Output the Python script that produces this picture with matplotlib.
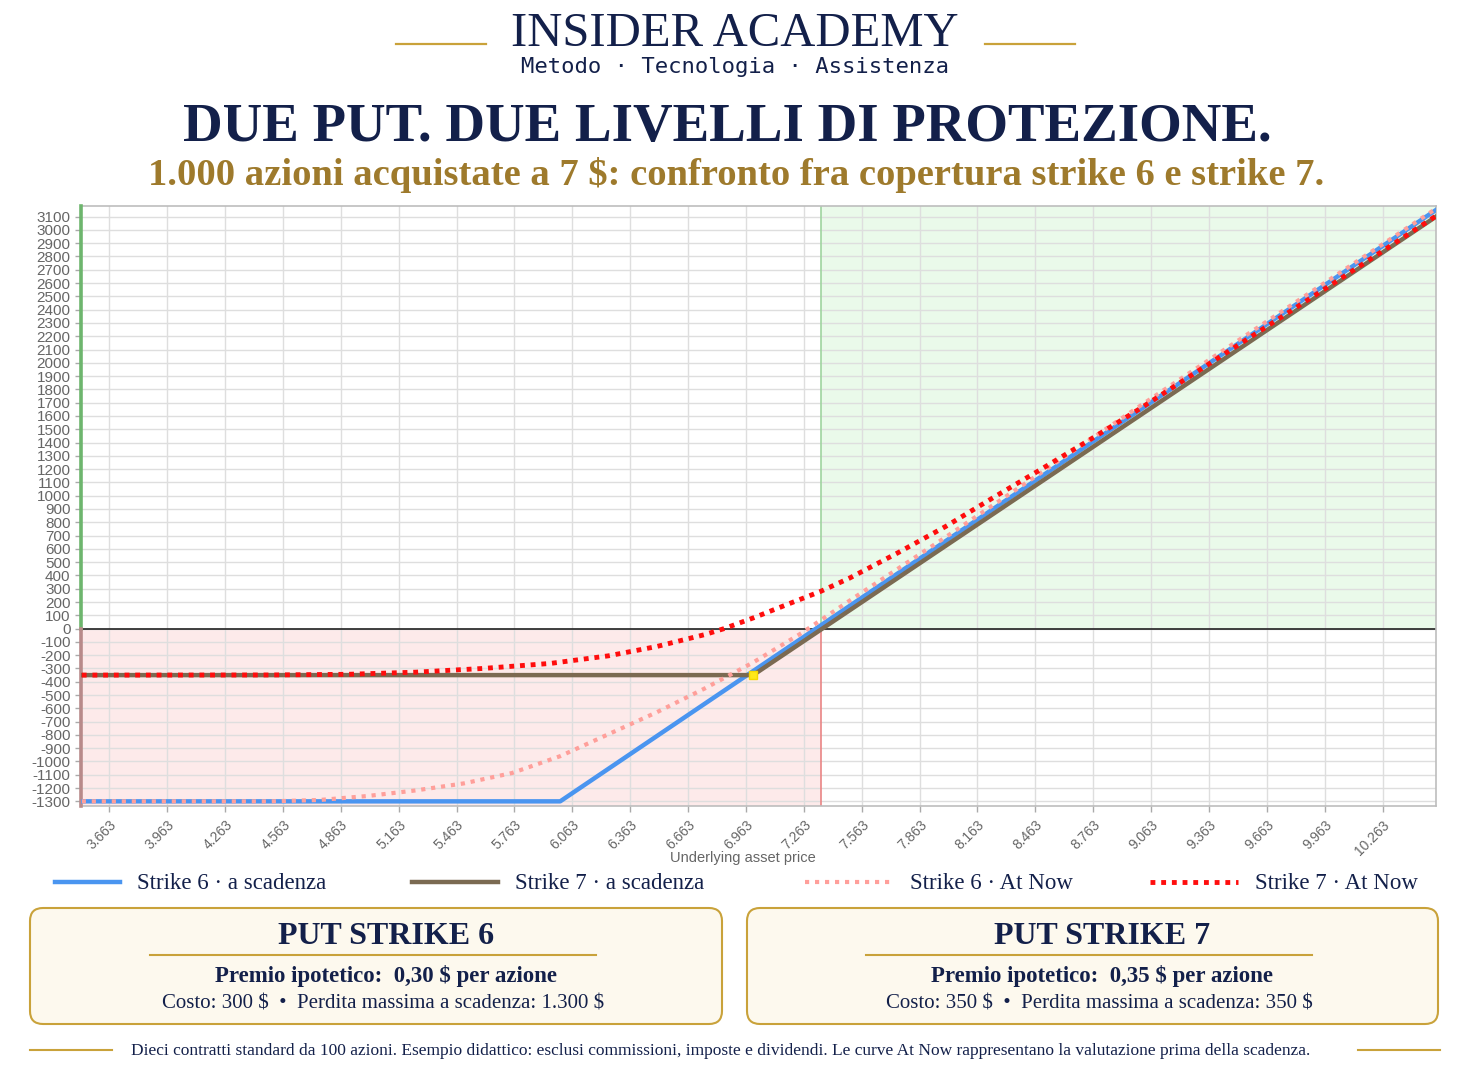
import matplotlib
matplotlib.use("Agg")
import matplotlib.pyplot as plt
from matplotlib.patches import FancyBboxPatch, Rectangle

# --- data (1000 shares bought at 7 $) ---
price_lo, price_hi = 3.516, 10.54
breakeven = 7.35

# P/L at expiry
exp6_price = [3.516, 6.0, 10.54]
exp6_pl = [-1300, -1300, 3150]
exp7_price = [3.516, 7.0, 10.54]
exp7_pl = [-350, -350, 3100]

# P/L "At Now"
now6_price = [3.52, 4.50, 4.75, 5.00, 5.25, 5.50, 5.75, 6.00, 6.25, 6.50, 6.75,
              7.00, 7.25, 7.50, 7.75, 8.00, 8.50, 9.00, 10.54]
now6_pl = [-1300, -1300, -1290, -1260, -1218, -1165, -1087, -960, -795, -630, -450,
           -255, -35, 210, 450, 690, 1180, 1670, 3160]
now7_price = [3.52, 4.50, 4.90, 5.25, 5.60, 5.95, 6.25, 6.50, 6.75, 6.85, 7.00, 7.20,
              7.35, 7.50, 7.75, 8.00, 8.25, 8.50, 8.75, 9.00, 9.50, 10.00, 10.54]
now7_pl = [-350, -349, -344, -328, -300, -262, -205, -135, -45, 0, 80, 195,
           280, 380, 570, 770, 990, 1205, 1425, 1650, 2120, 2590, 3105]

x_ticks = [3.663, 3.963, 4.263, 4.563, 4.863, 5.163, 5.463, 5.763, 6.063, 6.363, 6.663,
           6.963, 7.263, 7.563, 7.863, 8.163, 8.463, 8.763, 9.063, 9.363, 9.663, 9.963, 10.263]
y_ticks = list(range(-1300, 3101, 100))

legend_labels = ["Strike 6 · a scadenza", "Strike 7 · a scadenza",
                 "Strike 6 · At Now", "Strike 7 · At Now"]

navy = "#13204a"
gold = "#c9a23a"
serif = "Liberation Serif"
W, H = 1470, 1070
dots6 = (0, (1, 1.4))
dots7 = (0, (1, 1.2))

fig = plt.figure(figsize=(W / 100, H / 100), dpi=100)
fig.patch.set_facecolor("white")

# overlay in pixel units for header, legend, boxes, footer
ov = fig.add_axes([0, 0, 1, 1], zorder=0)
ov.set_xlim(0, W)
ov.set_ylim(H, 0)
ov.axis("off")

# ---- header ----
ov.text(735, 46, "INSIDER ACADEMY", family=serif, fontsize=35, color=navy,
        ha="center", va="baseline")
ov.plot([396, 486], [44, 44], color=gold, lw=1.6)
ov.plot([985, 1075], [44, 44], color=gold, lw=1.6)
ov.text(735, 73, "Metodo · Tecnologia · Assistenza", family="DejaVu Sans Mono",
        fontsize=16, color=navy, ha="center", va="baseline")
ov.text(727, 141, "DUE PUT. DUE LIVELLI DI PROTEZIONE.", family=serif, weight="bold",
        fontsize=39.5, color=navy, ha="center", va="baseline")
ov.text(736, 185, "1.000 azioni acquistate a 7 $: confronto fra copertura strike 6 e strike 7.",
        family=serif, weight="bold", fontsize=27.7, color="#9e7a2c", ha="center",
        va="baseline", parse_math=False)

# ---- chart ----
ax = fig.add_axes([81 / W, 264 / H, 1355 / W, 600 / H], zorder=1)
ax.set_xlim(price_lo, price_hi)
ax.set_ylim(-1335, 3180)

ax.add_patch(Rectangle((price_lo, -1335), breakeven - price_lo, 1335,
                       facecolor="#fdeaea", lw=0, zorder=0))
ax.add_patch(Rectangle((breakeven, 0), price_hi - breakeven, 3180,
                       facecolor="#eafaea", lw=0, zorder=0))

ax.set_xticks(x_ticks)
ax.set_xticklabels([f"{v:.3f}" for v in x_ticks], rotation=45, ha="right",
                   rotation_mode="anchor", family="Liberation Sans", fontsize=10)
ax.set_yticks(y_ticks)
ax.set_yticklabels([str(v) for v in y_ticks], family="Liberation Sans", fontsize=11)
ax.tick_params(colors="#aaaaaa", labelcolor="#666666", length=4.5, width=1, pad=3)
ax.tick_params(axis="x", pad=4)
ax.grid(True, color="#dedede", lw=1)
ax.set_axisbelow(True)
for s in ax.spines.values():
    s.set_color("#bdbdbd")
    s.set_linewidth(1.2)

ax.axhline(0, color="#222222", lw=1.2, zorder=2)
ax.plot([breakeven, breakeven], [0, 3180], color="#9fd49f", lw=1.2, zorder=2)
ax.plot([breakeven, breakeven], [-1335, 0], color="#e98585", lw=1.2, zorder=2)
ax.plot([price_lo, price_lo], [0, 3180], color="#6db56d", lw=2.6, zorder=3, clip_on=False)
ax.plot([price_lo, price_lo], [-1335, 0], color="#b88a8a", lw=2.6, zorder=3, clip_on=False)

l1, = ax.plot(exp6_price, exp6_pl, color="#4a95f0", lw=3.2, zorder=4)
l2, = ax.plot(exp7_price, exp7_pl, color="#7b6a52", lw=3.2, zorder=4)
l3, = ax.plot(now6_price, now6_pl, color="#ff9f9a", lw=3, ls=dots6, zorder=5)
l4, = ax.plot(now7_price, now7_pl, color="#ff0d0d", lw=3.5, ls=dots7, zorder=6)
ax.plot([exp7_price[1]], [exp7_pl[1]], marker="s", ms=6, color="#ffe81a",
        mec="#f5d800", zorder=7)

ov.text(743, 858, "Underlying asset price", family="Liberation Sans", fontsize=10.5,
        color="#666666", ha="center", va="center")

# ---- legend ----
leg_x = [(55, 120), (412, 498), (805, 893), (1150, 1238)]
leg_ls = ["-", "-", dots6, dots7]
for (xa, xb), line, ls, label in zip(leg_x, [l1, l2, l3, l4], leg_ls, legend_labels):
    ov.plot([xa, xb], [882, 882], color=line.get_color(), lw=line.get_linewidth(), ls=ls)
    ov.text(xb + 17, 889, label, family=serif, fontsize=16.5, color=navy,
            ha="left", va="baseline")

# ---- info boxes ----
boxes = [
    (30, 722, "PUT STRIKE 6", "Premio ipotetico:  0,30 $ per azione",
     "Costo: 300 $  •  Perdita massima a scadenza: 1.300 $"),
    (747, 1438, "PUT STRIKE 7", "Premio ipotetico:  0,35 $ per azione",
     "Costo: 350 $  •  Perdita massima a scadenza: 350 $"),
]
for x0, x1, title, line1, line2 in boxes:
    ov.add_patch(FancyBboxPatch((x0, 908), x1 - x0, 116,
                                boxstyle="round,pad=0,rounding_size=13",
                                facecolor="#fdf9ee", edgecolor=gold, lw=1.5))
    cx = (x0 + x1) / 2 + 10
    ov.text(cx, 944, title, family=serif, weight="bold", fontsize=23, color=navy,
            ha="center", va="baseline")
    ov.plot([cx - 236, cx + 210], [955, 955], color=gold, lw=1.5)
    ov.text(cx, 982, line1, family=serif, weight="bold", fontsize=16.5, color=navy,
            ha="center", va="baseline", parse_math=False)
    ov.text(cx - 3, 1009, line2, family=serif, fontsize=15, color=navy,
            ha="center", va="baseline", parse_math=False)

# ---- footer ----
ov.plot([30, 112], [1050, 1050], color=gold, lw=1.5)
ov.plot([1358, 1440], [1050, 1050], color=gold, lw=1.5)
ov.text(721, 1055, "Dieci contratti standard da 100 azioni. Esempio didattico: esclusi "
        "commissioni, imposte e dividendi. Le curve At Now rappresentano la valutazione "
        "prima della scadenza.", family=serif, fontsize=12.5, color=navy,
        ha="center", va="baseline")

fig.savefig("out.png", dpi=100)
